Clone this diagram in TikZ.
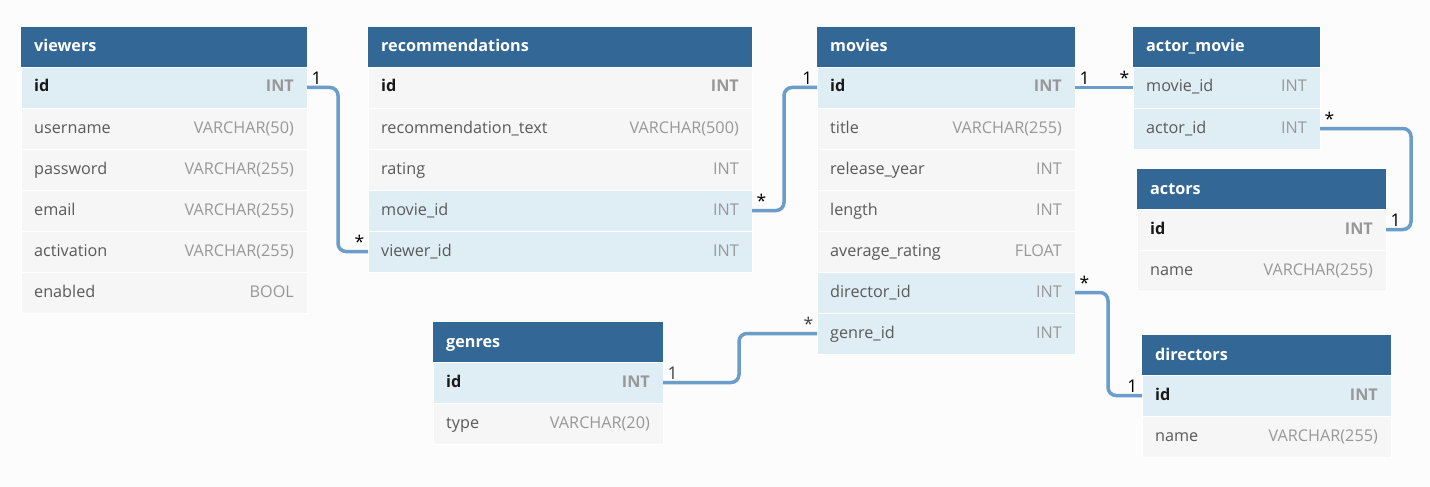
\documentclass[tikz,border=0pt]{standalone}
\usepackage{fontspec}
\setmainfont{Open Sans}
\usetikzlibrary{positioning}

\definecolor{headblue}{HTML}{336795}
\definecolor{keyblue}{HTML}{DFEDF5}
\definecolor{rowgray}{HTML}{F6F6F6}
\definecolor{relblue}{HTML}{6A9DC9}
\definecolor{fieldgray}{HTML}{5A5A5A}
\definecolor{typegray}{HTML}{989898}
\definecolor{canvas}{HTML}{FCFCFC}

\tikzset{
  tblhead/.style={fill=headblue, anchor=north west, minimum height=40pt, inner sep=0pt, outer sep=0pt},
  tblrow/.style={anchor=north west, minimum height=41pt, inner sep=0pt, outer sep=0pt, draw=white, line width=0.4pt},
  keyrow/.style={tblrow, fill=keyblue},
  plainrow/.style={tblrow, fill=rowgray},
  headtext/.style={anchor=west, inner sep=0pt, text height=13pt, text depth=3pt, text=white, font=\fontsize{16.2}{17}\selectfont\bfseries},
  fieldtext/.style={anchor=west, inner sep=0pt, text height=12pt, text depth=3pt, text=fieldgray, font=\fontsize{16.2}{17}\selectfont},
  typetext/.style={anchor=east, inner sep=0pt, text height=12pt, text depth=3pt, text=typegray, font=\fontsize{16.2}{17}\selectfont},
  rel/.style={draw=relblue, line width=3.5pt, rounded corners=8pt},
  card/.style={inner sep=1.5pt, text=black, font=\fontsize{17.5}{18}\selectfont},
}

% table header: name, x, y, width, title
\newcommand{\erhead}[5]{%
  \node[tblhead, minimum width=#4pt] (#1) at (#2,#3) {};
  \node[headtext, xshift=13pt] (#1-t) at (#1.west) {#5};
}
% table row: name, style, x, y, width, field, type
\newcommand{\errow}[7]{%
  \node[#2, minimum width=#5pt] (#1) at (#3,#4) {};
  \node[fieldtext, xshift=13pt] (#1-f) at (#1.west) {#6};
  \node[typetext, xshift=-13pt] (#1-t) at (#1.east) {#7};
}
\newcommand{\pk}[1]{\textbf{\color{black!90}#1}}
\newcommand{\pkt}[1]{\textbf{#1}}

\begin{document}
\begin{tikzpicture}[x=1pt,y=-1pt]
\useasboundingbox[fill=canvas] (0,0) rectangle (1430,487);

% viewers
\erhead{viewers}{21}{27}{286}{viewers}
\errow{viewers-id}{keyrow}{21}{67}{286}{\pk{id}}{\pkt{INT}}
\errow{viewers-user}{plainrow}{21}{108}{286}{username}{VARCHAR(50)}
\errow{viewers-pass}{plainrow}{21}{149}{286}{password}{VARCHAR(255)}
\errow{viewers-mail}{plainrow}{21}{190}{286}{email}{VARCHAR(255)}
\errow{viewers-act}{plainrow}{21}{231}{286}{activation}{VARCHAR(255)}
\errow{viewers-en}{plainrow}{21}{272}{286}{enabled}{BOOL}

% recommendations
\erhead{rec}{368}{27}{384}{recommendations}
\errow{rec-id}{plainrow}{368}{67}{384}{\pk{id}}{\pkt{INT}}
\errow{rec-text}{plainrow}{368}{108}{384}{recommendation\_text}{VARCHAR(500)}
\errow{rec-rating}{plainrow}{368}{149}{384}{rating}{INT}
\errow{rec-movie}{keyrow}{368}{190}{384}{movie\_id}{INT}
\errow{rec-viewer}{keyrow}{368}{231}{384}{viewer\_id}{INT}

% movies
\erhead{movies}{817}{27}{258}{movies}
\errow{movies-id}{keyrow}{817}{67}{258}{\pk{id}}{\pkt{INT}}
\errow{movies-title}{plainrow}{817}{108}{258}{title}{VARCHAR(255)}
\errow{movies-year}{plainrow}{817}{149}{258}{release\_year}{INT}
\errow{movies-len}{plainrow}{817}{190}{258}{length}{INT}
\errow{movies-avg}{plainrow}{817}{231}{258}{average\_rating}{FLOAT}
\errow{movies-director}{keyrow}{817}{272}{258}{director\_id}{INT}
\errow{movies-genre}{keyrow}{817}{313}{258}{genre\_id}{INT}

% actor_movie
\erhead{am}{1133}{27}{187}{actor\_movie}
\errow{am-movie}{keyrow}{1133}{67}{187}{movie\_id}{INT}
\errow{am-actor}{keyrow}{1133}{108}{187}{actor\_id}{INT}

% actors
\erhead{actors}{1137}{169}{249}{actors}
\errow{actors-id}{plainrow}{1137}{209}{249}{\pk{id}}{\pkt{INT}}
\errow{actors-name}{plainrow}{1137}{250}{249}{name}{VARCHAR(255)}

% genres
\erhead{genres}{433}{322}{230}{genres}
\errow{genres-id}{keyrow}{433}{362}{230}{\pk{id}}{\pkt{INT}}
\errow{genres-type}{plainrow}{433}{403}{230}{type}{VARCHAR(20)}

% directors
\erhead{directors}{1142}{335}{249}{directors}
\errow{directors-id}{keyrow}{1142}{375}{249}{\pk{id}}{\pkt{INT}}
\errow{directors-name}{plainrow}{1142}{416}{249}{name}{VARCHAR(255)}

% relations
\draw[rel] (viewers-id.east) -- ++(31,0) |- (rec-viewer.west);
\draw[rel] (rec-movie.east) -- ++(32,0) |- (movies-id.west);
\draw[rel] (movies-id.east) -- (am-movie.west);
\draw[rel] (am-actor.east) -- ++(91,0) |- (actors-id.east);
\draw[rel] (movies-director.east) -- ++(33,0) |- (directors-id.west);
\draw[rel] (genres-id.east) -- ++(76,0) |- (movies-genre.west);

% cardinalities
\node[card, above right=1pt and 3pt of viewers-id.east] (c1a) {1};
\node[card, above left=1pt and 2pt of rec-viewer.west] (c1b) {*};
\node[card, above right=1pt and 3pt of rec-movie.east] (c2a) {*};
\node[card, above left=1pt and 3pt of movies-id.west] (c2b) {1};
\node[card, above right=1pt and 3pt of movies-id.east] (c3a) {1};
\node[card, above left=1pt and 2pt of am-movie.west] (c3b) {*};
\node[card, above right=1pt and 3pt of am-actor.east] (c4a) {*};
\node[card, above right=1pt and 3pt of actors-id.east] (c4b) {1};
\node[card, above right=1pt and 3pt of movies-director.east] (c5a) {*};
\node[card, above left=1pt and 3pt of directors-id.west] (c5b) {1};
\node[card, text=black!75, above right=1pt and 3pt of genres-id.east] (c6a) {1};
\node[card, text=black!75, above left=1pt and 2pt of movies-genre.west] (c6b) {*};
\end{tikzpicture}
\end{document}
